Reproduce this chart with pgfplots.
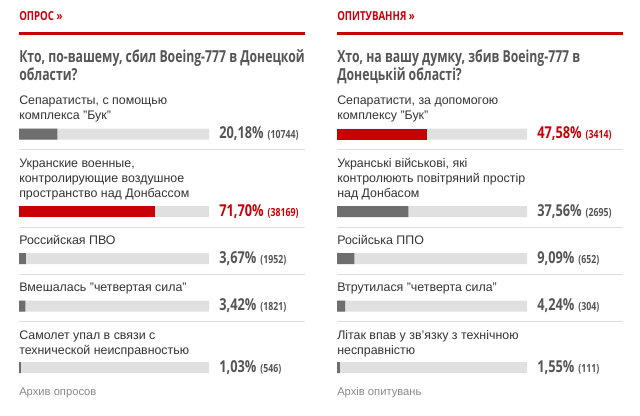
\documentclass[border=0pt]{standalone}
\usepackage{fontspec}
\setmainfont{Liberation Sans}
\newfontfamily\cond[FakeStretch=0.78]{Open Sans}
\newfontfamily\condq[FakeStretch=0.74]{Open Sans}
\usepackage{pgfplots}
\pgfplotsset{compat=1.18}

\definecolor{pollred}{HTML}{C80008}
\definecolor{pollbar}{HTML}{6E6E6E}
\definecolor{polltrack}{HTML}{E0E0E0}
\definecolor{pollrule}{HTML}{DDDDDD}
\definecolor{polltext}{HTML}{333333}
\definecolor{pollhead}{HTML}{555555}
\definecolor{pollnum}{HTML}{555555}
\definecolor{pollnote}{HTML}{888888}

% 1px = 0.75pt; the picture is 640x415 px
\pgfplotsset{
  pollaxis/.style={
    scale only axis, width=240pt, height=311.25pt,
    xmin=-10, xmax=158.42, ymin=0, ymax=415, y dir=reverse,
    hide axis, clip=false,
  },
  trackbar/.style={xbar, bar shift=0pt, bar width=8.25pt, fill=polltrack, draw=none},
  fillbar/.style={xbar, bar shift=0pt, bar width=8.25pt, fill=#1, draw=none},
}

\newcommand{\lab}[3]{\node[anchor=base west, inner sep=0pt, text=polltext,
  font=\fontsize{9.3}{11}\selectfont] at (#1,#2) {#3};}
\newcommand{\pct}[4]{\node[anchor=base west, inner sep=0pt, text=#1] at (219,#2)
  {{\cond\bfseries\fontsize{12.3}{13}\selectfont #3}\hspace{3pt}{\cond\bfseries\fontsize{8.4}{10}\selectfont (#4)}};}
\newcommand{\qline}[2]{\node[anchor=base west, inner sep=0pt, text=pollhead,
  font=\condq\bfseries\fontsize{12.4}{14}\selectfont] at (19,#1) {#2};}

\begin{document}
\begin{tikzpicture}
\path (0,0) rectangle (480pt,311.25pt);

% left poll
\begin{axis}[pollaxis, at={(0pt,0pt)}]
\addplot[trackbar] coordinates {(100,134) (100,211.5) (100,258.5) (100,306) (100,367.5)};
\addplot[fillbar=pollbar] coordinates {(20.18,134) (3.67,258.5) (3.42,306) (1.03,367.5)};
\addplot[fillbar=pollred] coordinates {(71.70,211.5)};
\end{axis}

% right poll
\begin{axis}[pollaxis, at={(238.5pt,0pt)}]
\addplot[trackbar] coordinates {(100,134) (100,211.5) (100,258.5) (100,306) (100,367.5)};
\addplot[fillbar=pollbar] coordinates {(37.56,211.5) (9.09,258.5) (4.24,306) (1.55,367.5)};
\addplot[fillbar=pollred] coordinates {(47.58,134)};
\end{axis}

% texts and rules, in px from the top left
\begin{scope}[yshift=311.25pt, x=0.75pt, y=-0.75pt]
\foreach \dx in {0,318} {
  \begin{scope}[xshift=\dx*0.75pt]
    \fill[pollred] (19,32.5) rectangle (305,35.5);
    \foreach \yy in {150,227.5,274,321}
      \draw[pollrule, line width=0.75pt] (19,\yy) -- (305,\yy);
  \end{scope}
}

% left
\node[anchor=base west, inner sep=0pt, text=pollred,
  font=\cond\bfseries\fontsize{9.3}{10}\selectfont] at (19,20.5) {ОПРОС »};
\qline{63}{Кто, по-вашему, сбил Boeing-777 в Донецкой}
\qline{81}{области?}
\lab{19}{105}{Сепаратисты, с помощью}
\lab{19}{120}{комплекса "Бук"}
\pct{pollnum}{139}{20,18\%}{10744}
\lab{19}{167.3}{Укранские военные,}
\lab{19}{182.7}{контролирующие воздушное}
\lab{19}{198}{пространство над Донбассом}
\pct{pollred}{217}{71,70\%}{38169}
\lab{19}{244}{Российская ПВО}
\pct{pollnum}{263.5}{3,67\%}{1952}
\lab{19}{291.7}{Вмешалась "четвертая сила"}
\pct{pollnum}{311}{3,42\%}{1821}
\lab{19}{339}{Самолет упал в связи с}
\lab{19}{354}{технической неисправностью}
\pct{pollnum}{372.7}{1,03\%}{546}
\node[anchor=base west, inner sep=0pt, text=pollnote,
  font=\fontsize{8.4}{10}\selectfont] at (19,395) {Архив опросов};

% right
\begin{scope}[xshift=238.5pt]
\node[anchor=base west, inner sep=0pt, text=pollred,
  font=\cond\bfseries\fontsize{9.3}{10}\selectfont] at (19,20.5) {ОПИТУВАННЯ »};
\qline{63}{Хто, на вашу думку, збив Boeing-777 в}
\qline{81}{Донецькій області?}
\lab{19}{105}{Сепаратисти, за допомогою}
\lab{19}{120}{комплексу "Бук"}
\pct{pollred}{139}{47,58\%}{3414}
\lab{19}{167.3}{Укранські військові, які}
\lab{19}{182.7}{контролюють повітряний простір}
\lab{19}{198}{над Донбасом}
\pct{pollnum}{217}{37,56\%}{2695}
\lab{19}{244}{Російська ППО}
\pct{pollnum}{263.5}{9,09\%}{652}
\lab{19}{291.7}{Втрутилася "четверта сила"}
\pct{pollnum}{311}{4,24\%}{304}
\lab{19}{339}{Літак впав у зв'язку з технічною}
\lab{19}{354}{несправністю}
\pct{pollnum}{372.7}{1,55\%}{111}
\node[anchor=base west, inner sep=0pt, text=pollnote,
  font=\fontsize{8.4}{10}\selectfont] at (19,395) {Архів опитувань};
\end{scope}
\end{scope}
\end{tikzpicture}
\end{document}
